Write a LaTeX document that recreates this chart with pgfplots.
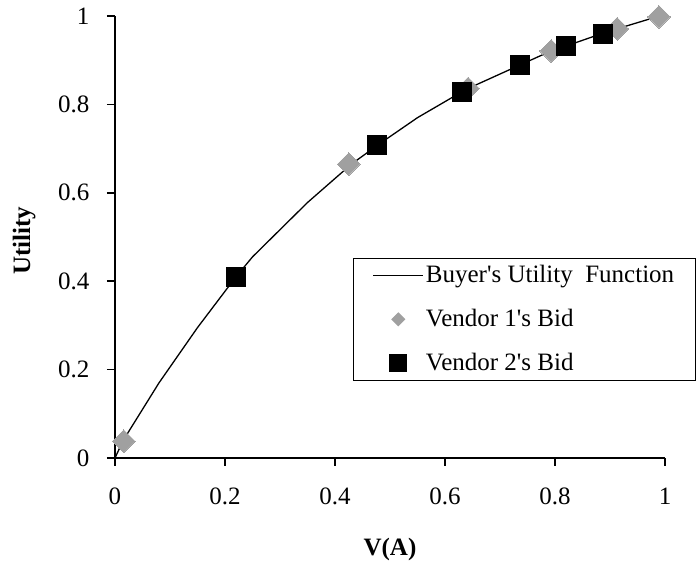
\documentclass[border=0pt]{standalone}
\usepackage{pgfplots}
\pgfplotsset{compat=1.18}
\usepackage{fontspec}
\setmainfont{Liberation Serif}
\definecolor{vgray}{RGB}{160,160,160}
\newcommand{\bigfont}{\fontsize{25}{30}\selectfont}

\begin{document}
\bigfont
\begin{tikzpicture}[x=1pt,y=1pt]
  \begin{axis}[
    scale only axis,
    width=550pt, height=442pt,
    at={(0,0)}, anchor=south west,
    xmin=0, xmax=1, ymin=0, ymax=1,
    axis x line=bottom, axis y line=left,
    axis line style={-, line width=1.6pt},
    xtick={0,0.2,0.4,0.6,0.8,1},
    ytick={0,0.2,0.4,0.6,0.8,1},
    tick align=outside,
    major tick length=8pt,
    tick style={line width=1.6pt, black},
    /pgf/number format/assume math mode=true,
    tick label style={font=\bigfont},
    xticklabel style={yshift=-13pt},
    yticklabel style={xshift=-9pt},
    xlabel={\textbf{V(A)}},
    ylabel={\textbf{Utility}},
    label style={font=\bigfont},
    xlabel style={at={(axis description cs:0.5,-0.208)}, anchor=center},
    ylabel style={at={(axis description cs:-0.165,0.491)}, anchor=center},
    clip=false,
    legend style={
      at={(axis cs:0.433,0.452)}, anchor=north west,
      draw=black, line width=1pt, fill=white,
      font=\bigfont,
      row sep=19pt, inner xsep=19pt, inner ysep=4pt,
      /tikz/every even column/.append style={column sep=12pt},
    },
    legend cell align=left,
  ]
    % buyer's utility curve
    \addplot[black, line width=1.3pt, mark=none,
      legend image code/.code={\draw[black, line width=1.3pt] (0pt,0pt) -- (50pt,0pt);}]
      coordinates {
      (0,0) (0.015,0.04) (0.08,0.17) (0.15,0.295) (0.22,0.41) (0.25,0.455)
      (0.35,0.578) (0.43,0.665) (0.48,0.71) (0.55,0.77) (0.63,0.828)
      (0.642,0.836) (0.736,0.889) (0.793,0.921) (0.82,0.932)
      (0.887,0.961) (0.913,0.971) (0.99,1.0)
    };
    \addlegendentry{Buyer\textquotesingle s Utility\ \ Function}

    \addplot[only marks, mark=square*, mark size=8pt,
      mark options={draw=vgray, fill=vgray, line width=0pt, rotate=45},
      legend image code/.code={\path[draw=none] (0pt,0pt) -- (50pt,0pt);
        \fill[vgray, rotate around={45:(25pt,0pt)}] (20.5pt,-4.5pt) rectangle (29.5pt,4.5pt);}]
      coordinates {
      (0.016,0.038) (0.425,0.665) (0.642,0.836) (0.793,0.921)
      (0.913,0.971) (0.989,0.998)
    };
    \addlegendentry{Vendor 1\textquotesingle s Bid}

    \addplot[only marks, mark=square*, mark size=9.5pt, black,
      legend image code/.code={\path[draw=none] (0pt,0pt) -- (50pt,0pt);
        \fill[black] (16.5pt,-8.5pt) rectangle (33.5pt,8.5pt);}]
      coordinates {
      (0.22,0.41) (0.476,0.708) (0.631,0.828) (0.736,0.889)
      (0.82,0.932) (0.887,0.961)
    };
    \addlegendentry{Vendor 2\textquotesingle s Bid}
  \end{axis}
  \pgfresetboundingbox
  \path (-115,-106) rectangle (581,458);
\end{tikzpicture}
\end{document}
